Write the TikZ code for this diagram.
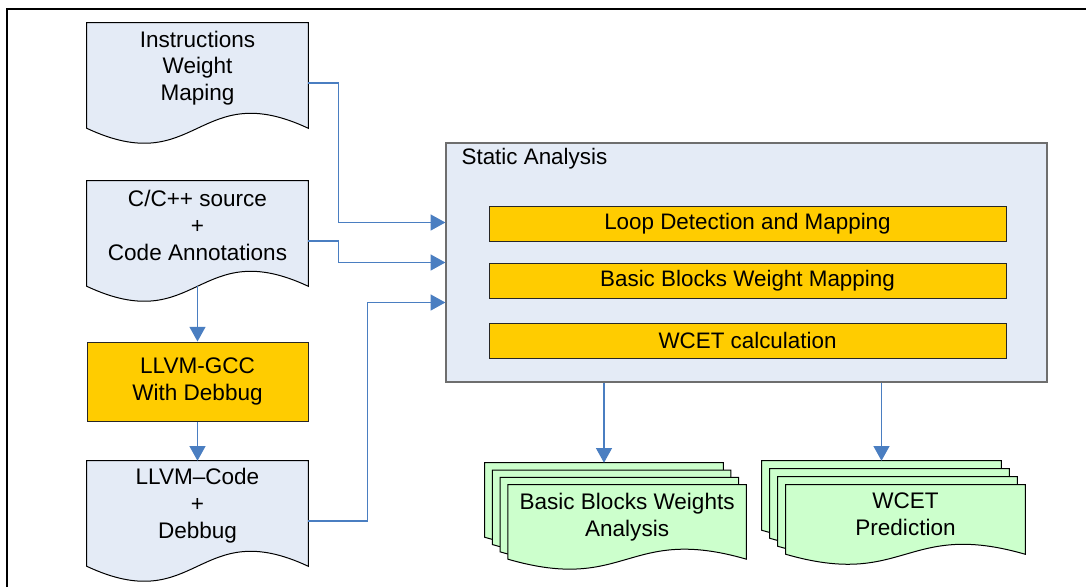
\documentclass[tikz,border=0pt]{standalone}
\usepackage{fontspec}
\setmainfont{Liberation Sans}
\usetikzlibrary{arrows.meta,calc}
\definecolor{docfill}{RGB}{228,235,246}
\definecolor{barfill}{RGB}{255,204,0}
\definecolor{greenfill}{RGB}{204,255,204}
\definecolor{connblue}{RGB}{74,126,193}
\definecolor{saborder}{RGB}{110,110,110}
\tikzset{
  framerule/.style={draw=black, line width=1.5pt},
  docnode/.style={draw=none, minimum width=165.75pt, minimum height=90pt, inner sep=0pt},
  docline/.style={draw=black, line width=0.75pt, fill=docfill},
  greenline/.style={draw=black, line width=0.75pt, fill=greenfill},
  bbpage/.style={draw=none, minimum width=178.5pt, minimum height=63pt, inner sep=0pt},
  wcpage/.style={draw=none, minimum width=179.25pt, minimum height=59.25pt, inner sep=0pt},
  shapetext/.style={align=center, inner sep=0pt, font=\fontsize{16.9pt}{20pt}\selectfont},
  gccbox/.style={draw=black!85, line width=0.75pt, fill=barfill, minimum width=165.75pt, minimum height=59.25pt, align=center, inner sep=0pt, font=\fontsize{16.9pt}{20pt}\selectfont},
  sabox/.style={draw=saborder, line width=1pt, fill=docfill, minimum width=450.75pt, minimum height=179.25pt, inner sep=0pt},
  barbox/.style={draw=black!85, line width=0.75pt, fill=barfill, minimum width=387.75pt, minimum height=26.25pt, inner sep=0pt, font=\fontsize{16.8pt}{19pt}\selectfont},
  conn/.style={draw=connblue, line width=0.8pt, -{Triangle[length=11pt,width=12pt]}},
}
\newcommand\docoutline[3]{%
  \path[#3] (#1.north west) -- (#1.north east) -- ($(#1.south east)+(0,-#2)$)
    .. controls ($(#1.south)+(0,-#2-3.46*#2)$) and ($(#1.south)+(0,-#2+3.46*#2)$) ..
    ($(#1.south west)+(0,-#2)$) -- cycle;}
\begin{document}
\begin{tikzpicture}[x=0.75pt, y=-0.75pt]
\useasboundingbox (0,0) rectangle (1086,587);
\draw[framerule] (7,587) -- (7,9) -- (1086,9);

% left column documents
\node[docnode] (doc1) at (197.5,83) {};
\docoutline{doc1}{15}{docline}
\node[shapetext] (doc1text) at ($(doc1.center)+(0,-15)$) {Instructions\\Weight\\Maping};

\node[docnode] (doc2) at (197.5,241) {};
\docoutline{doc2}{15}{docline}
\node[shapetext] (doc2text) at ($(doc2.center)+(0,-15.5)$) {C/C++ source\\+\\Code Annotations};

\node[gccbox] (gcc) at (197.5,381.5) {LLVM-GCC\\With Debbug};

\node[docnode] (doc3) at (197.5,521) {};
\docoutline{doc3}{15}{docline}
\node[shapetext] (doc3text) at ($(doc3.center)+(0,-15.5)$) {LLVM–Code\\+\\Debbug};

% static analysis
\node[sabox] (sa) at (746.5,262.5) {};
\node[anchor=base west, inner sep=0pt, font=\fontsize{16.8pt}{20pt}\selectfont] (salabel) at ($(sa.north west)+(16,22)$) {Static Analysis};
\node[barbox] (loop) at (747.5,223.5) {Loop Detection and Mapping};
\node[barbox] (bbw) at (747.5,280.5) {Basic Blocks Weight Mapping};
\node[barbox] (wcetc) at (747.5,340.5) {WCET calculation};

% basic blocks stack
\node[bbpage] (bb0) at (604,505) {};
\docoutline{bb0}{10}{greenline}
\node[bbpage] (bb1) at (611.7,512.3) {};
\docoutline{bb1}{10}{greenline}
\node[bbpage] (bb2) at (619.4,519.6) {};
\docoutline{bb2}{10}{greenline}
\node[bbpage] (bb3) at (627.1,526.9) {};
\docoutline{bb3}{10}{greenline}
\node[shapetext] (bbtext) at ($(bb3.center)+(0,-10)$) {Basic Blocks Weights\\Analysis};

% wcet stack
\node[wcpage] (wc0) at (881.5,500.5) {};
\docoutline{wc0}{10}{greenline}
\node[wcpage] (wc1) at (889.5,508.5) {};
\docoutline{wc1}{10}{greenline}
\node[wcpage] (wc2) at (897.5,516.5) {};
\docoutline{wc2}{10}{greenline}
\node[wcpage] (wc3) at (905.5,524.5) {};
\docoutline{wc3}{10}{greenline}
\node[shapetext] (wctext) at ($(wc3.center)+(0,-10.5)$) {WCET\\Prediction};

% connectors
\draw[conn] ($(doc2.south)+(0,-15)$) -- (gcc.north);
\draw[conn] (gcc.south) -- (doc3.north);
\draw[conn] (doc1.east) -- ++(30,0) |- ($(sa.west)+(0,-40)$);
\draw[conn] (doc2.east) -- ++(30,0) |- (sa.west);
\draw[conn] (doc3.east) -- ++(59,0) |- ($(sa.west)+(0,40)$);
\draw[conn] (sa.south -| bb0.north) -- (bb0.north);
\draw[conn] (sa.south -| wc0.north) -- (wc0.north);
\end{tikzpicture}
\end{document}
